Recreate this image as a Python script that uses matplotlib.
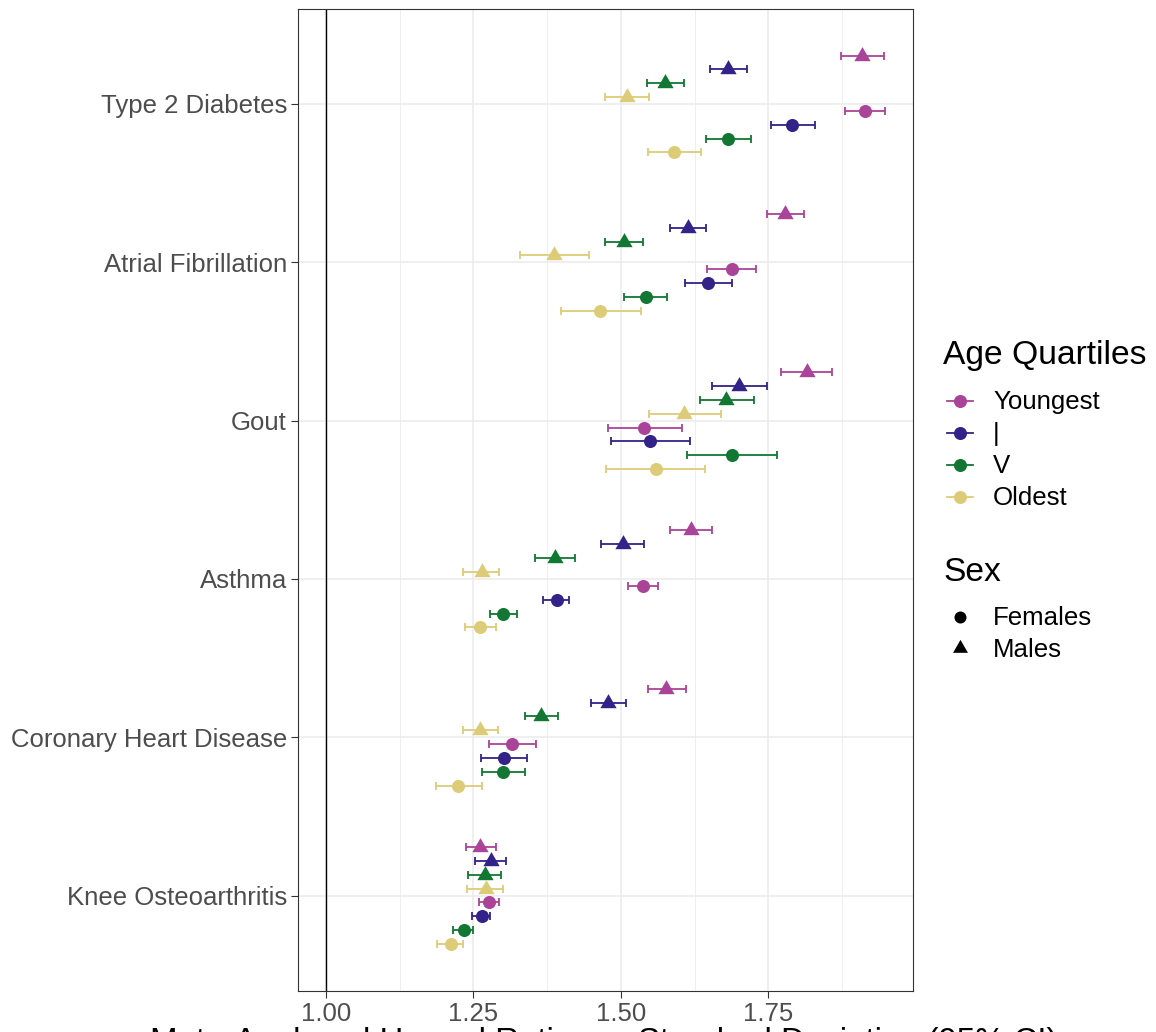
import matplotlib
matplotlib.use("Agg")
import matplotlib.pyplot as plt
from matplotlib.lines import Line2D
from matplotlib.path import Path
import numpy as np

plt.rcParams["font.family"] = ["Liberation Sans", "DejaVu Sans"]

# ---- data -------------------------------------------------------------
diseases = ["Type 2 Diabetes", "Atrial Fibrillation", "Gout", "Asthma",
            "Coronary Heart Disease", "Knee Osteoarthritis"]
quartiles = ["Youngest", "|", "V", "Oldest"]
quartile_colors = ["#AA4499", "#332288", "#117733", "#DDCC77"]
sexes = ["Females", "Males"]

# hazard ratios per SD, rows = diseases, columns = age quartiles
males_hr = [[1.909, 1.682, 1.575, 1.510],
            [1.779, 1.614, 1.505, 1.387],
            [1.816, 1.700, 1.679, 1.607],
            [1.619, 1.504, 1.388, 1.264],
            [1.577, 1.479, 1.365, 1.261],
            [1.262, 1.280, 1.270, 1.272]]
males_lo = [[1.874, 1.652, 1.544, 1.473],
            [1.748, 1.583, 1.473, 1.329],
            [1.772, 1.654, 1.635, 1.548],
            [1.584, 1.467, 1.355, 1.233],
            [1.546, 1.449, 1.338, 1.232],
            [1.238, 1.252, 1.241, 1.240]]
males_hi = [[1.946, 1.714, 1.607, 1.548],
            [1.811, 1.645, 1.537, 1.446],
            [1.858, 1.747, 1.726, 1.669],
            [1.655, 1.540, 1.422, 1.294],
            [1.611, 1.509, 1.393, 1.291],
            [1.288, 1.306, 1.296, 1.300]]

females_hr = [[1.914, 1.791, 1.681, 1.590],
              [1.688, 1.648, 1.542, 1.464],
              [1.539, 1.549, 1.689, 1.559],
              [1.537, 1.392, 1.301, 1.261],
              [1.316, 1.302, 1.301, 1.224],
              [1.276, 1.265, 1.234, 1.212]]
females_lo = [[1.880, 1.754, 1.644, 1.546],
              [1.646, 1.608, 1.506, 1.399],
              [1.479, 1.484, 1.613, 1.475],
              [1.512, 1.368, 1.278, 1.236],
              [1.276, 1.263, 1.264, 1.186],
              [1.259, 1.248, 1.215, 1.189]]
females_hi = [[1.948, 1.830, 1.720, 1.636],
              [1.730, 1.688, 1.578, 1.535],
              [1.603, 1.617, 1.764, 1.642],
              [1.563, 1.412, 1.324, 1.288],
              [1.357, 1.341, 1.338, 1.264],
              [1.294, 1.278, 1.250, 1.233]]

x_ticks = [1.00, 1.25, 1.50, 1.75]
x_label = "Meta-Analysed Hazard Ratio per Standard Deviation (95% CI)"

# ---- figure -----------------------------------------------------------
W, H = 1156, 1032
fig = plt.figure(figsize=(W / 100, H / 100), dpi=100)
ax = fig.add_axes([298 / W, 1 - 990.5 / H, (913 - 298) / W, (990.5 - 9) / H])

# equilateral triangle marker (centred on centroid)
tri = Path([(0, 0.577), (-0.5, -0.289), (0.5, -0.289), (0, 0.577)],
           [Path.MOVETO, Path.LINETO, Path.LINETO, Path.CLOSEPOLY])
markers = {"Females": ("o", 9.4), "Males": (tri, 13.5)}

# dodge: 8 groups (males then females, youngest to oldest) within width 0.7
n_groups = 8
slot = 0.7 / n_groups
series = [("Males", males_hr, males_lo, males_hi),
          ("Females", females_hr, females_lo, females_hi)]

ypos = np.arange(len(diseases), 0, -1)  # top category highest

for d, yc in enumerate(ypos):
    k = 0
    for sex, hr, lo, hi in series:
        for q, col in enumerate(quartile_colors):
            y = yc + 0.35 - slot * (k + 0.5)
            m, ms = markers[sex]
            ax.errorbar(hr[d][q], y,
                        xerr=[[hr[d][q] - lo[d][q]], [hi[d][q] - hr[d][q]]],
                        fmt="none", ecolor=col, elinewidth=1.3,
                        capsize=2.9, capthick=1.3, zorder=3)
            ax.plot(hr[d][q], y, linestyle="none", marker=m, markersize=ms,
                    color=col, markeredgewidth=0, zorder=4)
            k += 1

ax.axvline(1.0, color="black", lw=1.0, zorder=2)

all_lo = np.concatenate([np.ravel(males_lo), np.ravel(females_lo), [1.0]])
all_hi = np.concatenate([np.ravel(males_hi), np.ravel(females_hi)])
span = all_hi.max() - all_lo.min()
ax.set_xlim(all_lo.min() - 0.05 * span, all_hi.max() + 0.05 * span)
ax.set_ylim(0.4, len(diseases) + 0.6)

ax.set_xticks(x_ticks)
ax.set_xticklabels([f"{t:.2f}" for t in x_ticks])
ax.set_xticks([(a + b) / 2 for a, b in zip(x_ticks, x_ticks[1:] + [2.0])],
              minor=True)
ax.set_yticks(ypos)
ax.set_yticklabels(diseases)

ax.grid(True, which="major", color="#EBEBEB", lw=1.1, zorder=0)
ax.grid(True, which="minor", axis="x", color="#EBEBEB", lw=0.55, zorder=0)
ax.set_axisbelow(True)
ax.tick_params(axis="both", which="major", length=4.7, width=0.8,
               color="#333333", labelcolor="#4D4D4D", labelsize=18.5, pad=3.3)
ax.tick_params(axis="both", which="minor", length=0)
for s in ax.spines.values():
    s.set_color("#333333")
    s.set_linewidth(0.8)

fig.text(604 / W, 1 - 1027 / H, x_label, ha="center", va="top",
         fontsize=23.8, color="black")


# ---- legends ----------------------------------------------------------
def fx(px):
    return px / W


def fy(py):
    return 1 - py / H


fig.text(fx(943), fy(364), "Age Quartiles", fontsize=24.2, va="baseline")
rows = [400.5, 432.5, 464.5, 496.5]
for lab, col, r in zip(quartiles, quartile_colors, rows):
    fig.add_artist(Line2D([fx(947), fx(973)], [fy(r), fy(r)], color=col,
                          lw=1.3, transform=fig.transFigure))
    fig.add_artist(Line2D([fx(960)], [fy(r)], color=col, marker="o",
                          markersize=9.4, markeredgewidth=0,
                          transform=fig.transFigure))
    fig.text(fx(993), fy(r + 8.5), lab, fontsize=18.6, va="baseline")

fig.text(fx(943), fy(581), "Sex", fontsize=24.2, va="baseline")
for lab, r in zip(sexes, [616.7, 648.3]):
    m, ms = markers[lab]
    fig.add_artist(Line2D([fx(960)], [fy(r)], color="black", marker=m,
                          markersize=ms * 0.92, markeredgewidth=0,
                          transform=fig.transFigure))
    fig.text(fx(993), fy(r + 8.5), lab, fontsize=18.6, va="baseline")

fig.savefig("out.png", dpi=100)
